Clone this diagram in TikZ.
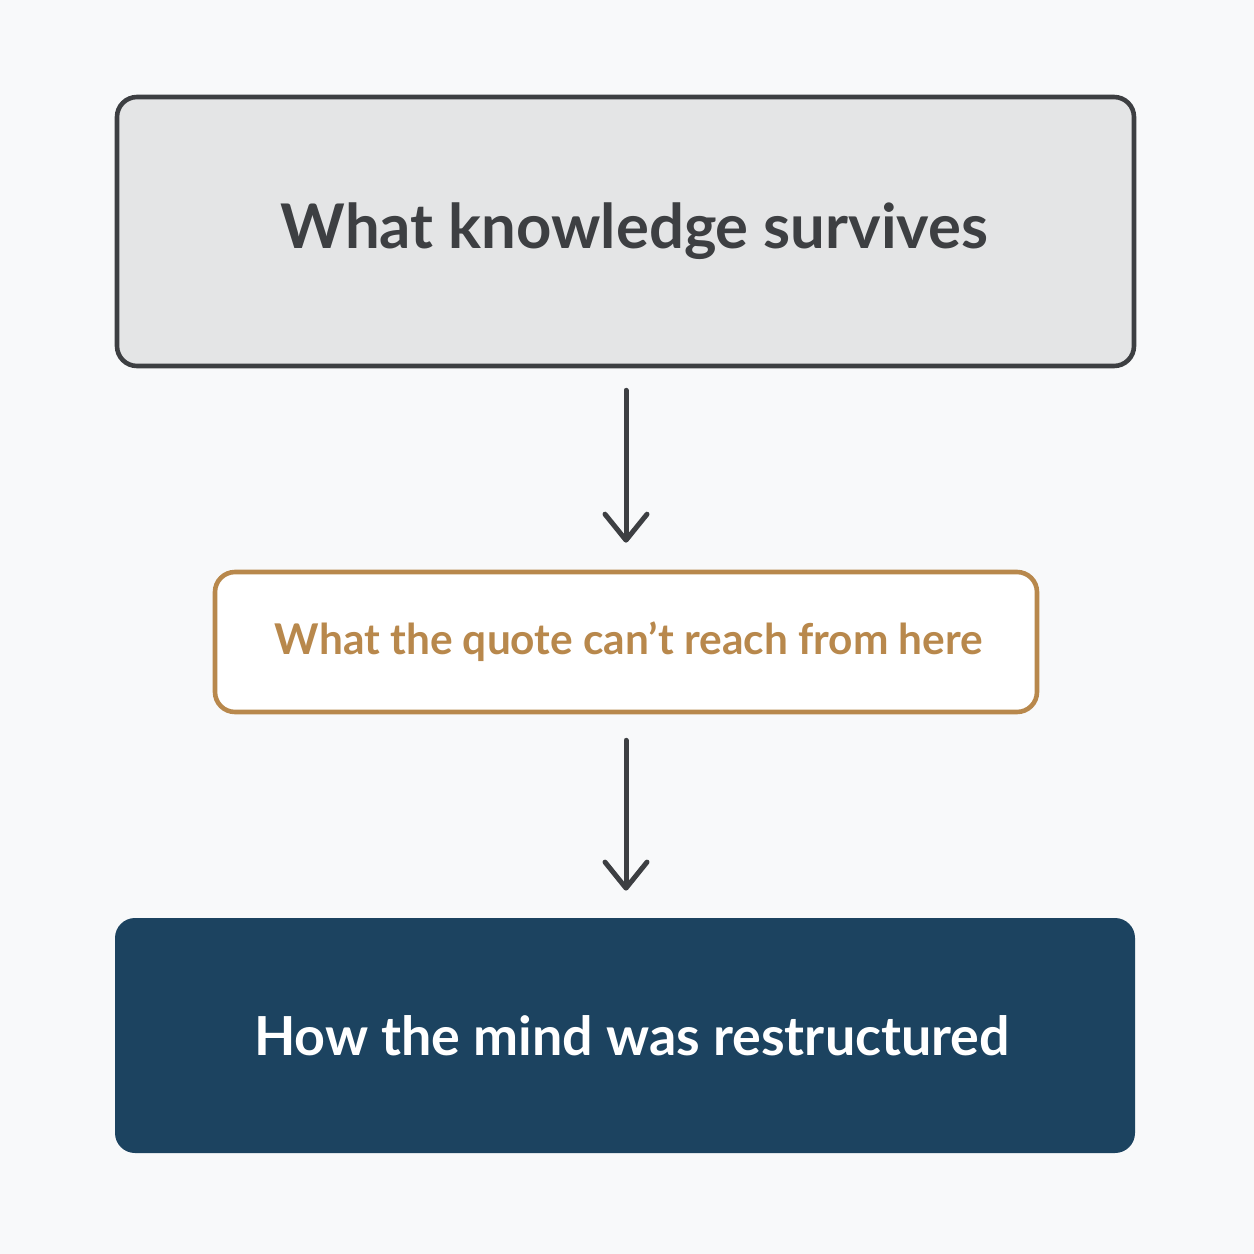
\documentclass[tikz,border=0pt]{standalone}
\usepackage{fontspec}
\setmainfont{Lato}
\usetikzlibrary{arrows.meta}
\definecolor{bg}{HTML}{F8F9FA}
\definecolor{darkgray}{HTML}{3D3F42}
\definecolor{lightfill}{HTML}{E4E5E6}
\definecolor{gold}{HTML}{B8884C}
\definecolor{navy}{HTML}{1C4360}
\tikzset{
  box/.style={rectangle, rounded corners=10pt, align=center, inner sep=0pt},
  topbox/.style={box, draw=darkgray, fill=lightfill, line width=2.3pt, text=darkgray,
    minimum width=508.5pt, minimum height=134.5pt, font=\fontsize{30.8}{36}\selectfont\bfseries},
  midbox/.style={box, draw=gold, fill=white, line width=2.3pt, text=gold,
    minimum width=411pt, minimum height=70pt, font=\fontsize{21.2}{26}\selectfont\bfseries},
  botbox/.style={box, fill=navy, text=white,
    minimum width=510pt, minimum height=117.5pt, font=\fontsize{26.9}{32}\selectfont\bfseries},
  flow/.style={draw=darkgray, line width=2.5pt, line cap=round,
    -{Straight Barb[length=13pt,width=21pt,line cap=round,line join=round]}}
}
\begin{document}
\begin{tikzpicture}[x=0.5pt,y=-0.5pt]
\fill[bg] (0,0) rectangle (1254,1254);
\useasboundingbox (0,0) rectangle (1254,1254);
\node[topbox] (b1) at (625.5,231.5) {\hspace*{9pt}\raisebox{-2.5pt}{What knowledge survives}};
\node[midbox] (b2) at (626,642) {\hspace*{3pt}\raisebox{-1.5pt}{What the quote can’t reach from here}};
\node[botbox] (b3) at (625,1035.5) {\hspace*{7pt}How the mind was restructured};
\draw[flow, shorten <=11pt, shorten >=13.5pt] (b1.south -| 626,0) -- (b2.north -| 626,0);
\draw[flow, shorten <=13pt, shorten >=13.5pt] (b2.south -| 626,0) -- (b3.north -| 626,0);
\end{tikzpicture}
\end{document}
